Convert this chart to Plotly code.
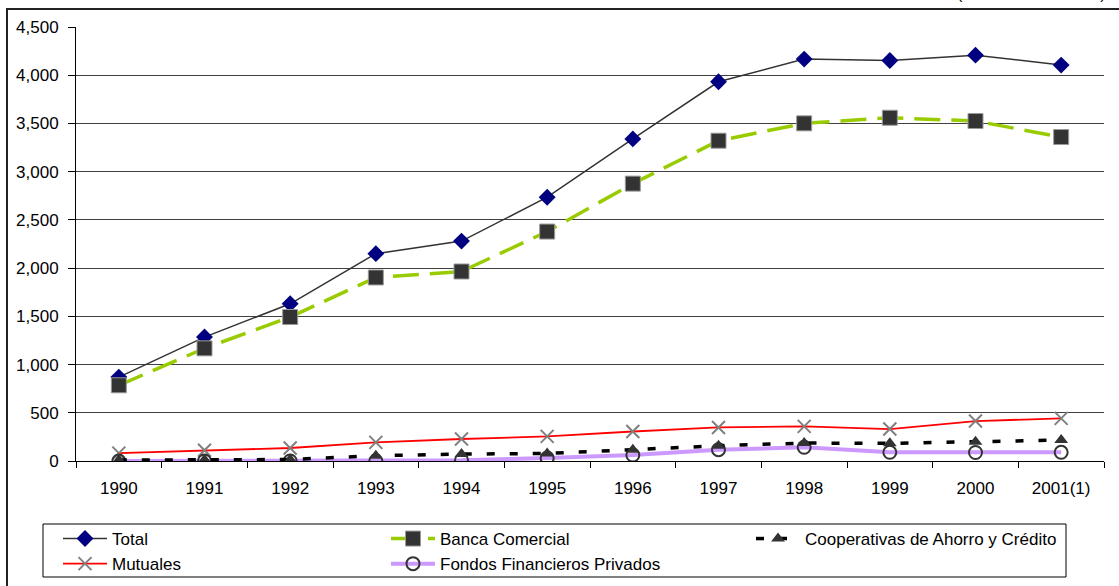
import plotly.graph_objects as go

# Categories and series (millones)
years = ["1990", "1991", "1992", "1993", "1994", "1995", "1996", "1997",
         "1998", "1999", "2000", "2001(1)"]
total = [870, 1285, 1630, 2150, 2280, 2735, 3340, 3932, 4167, 4153, 4208, 4105]
banca = [785, 1168, 1493, 1903, 1965, 2379, 2876, 3321, 3501, 3559, 3525, 3359]
cooperativas = [10, 12, 15, 55, 72, 78, 117, 158, 186, 183, 200, 217]
mutuales = [82, 112, 135, 193, 228, 255, 306, 348, 359, 331, 414, 442]
fondos = [0, 0, 0, 0, 8, 30, 62, 117, 142, 90, 88, 90]

y_ticks = list(range(0, 4501, 500))

FONT = "Arial, 'Liberation Sans', sans-serif"

W, H = 1119, 586
L, R, T, B = 76, 15, 27, 125
PW, PH = W - L - R, H - T - B


def px_x(p):
    return (p - L) / PW


def px_y(p):
    return (H - B - p) / PH


def cont_x(p):
    return p / W


def cont_y(p):
    return (H - p) / H


fig = go.Figure()

fig.add_trace(go.Scatter(
    x=years, y=total, name="Total", mode="lines+markers",
    line=dict(color="#333333", width=1.5),
    marker=dict(symbol="diamond", size=13, color="#000080"),
    legend="legend", legendrank=1,
))
fig.add_trace(go.Scatter(
    x=years, y=banca, name="Banca Comercial", mode="lines+markers",
    line=dict(color="#99CC00", width=3.5, dash="26px,11px"),
    marker=dict(symbol="square", size=15, color="#333333",
                line=dict(color="#999999", width=1)),
    legend="legend2", legendrank=1,
))
fig.add_trace(go.Scatter(
    x=years, y=mutuales, name="Mutuales", mode="lines+markers",
    line=dict(color="#FF0000", width=1.8),
    marker=dict(symbol="x-thin", size=13, color="#808080",
                line=dict(color="#808080", width=2)),
    legend="legend", legendrank=2,
))
fig.add_trace(go.Scatter(
    x=years, y=fondos, name="Fondos Financieros Privados", mode="lines+markers",
    line=dict(color="#CC99FF", width=4),
    marker=dict(symbol="circle", size=13, color="rgba(255,255,255,0)",
                line=dict(color="#333333", width=2)),
    legend="legend2", legendrank=2,
))
fig.add_trace(go.Scatter(
    x=years, y=cooperativas, name="Cooperativas de Ahorro y Crédito",
    mode="lines+markers",
    line=dict(color="#000000", width=3.5, dash="8px,15px"),
    marker=dict(symbol="triangle-up", size=12, color="#333333"),
    legend="legend3",
))

leg_common = dict(
    orientation="v", xanchor="left", yanchor="top",
    xref="container", yref="container",
    bgcolor="rgba(0,0,0,0)", borderwidth=0,
    font=dict(family=FONT, size=17, color="#000000"),
    itemwidth=44, tracegroupgap=0,
)
leg_top = cont_y(521)

fig.update_layout(
    width=W, height=H,
    margin=dict(l=L, r=R, t=T, b=B, autoexpand=False),
    paper_bgcolor="#FFFFFF", plot_bgcolor="#FFFFFF",
    font=dict(family=FONT, size=16, color="#000000"),
    showlegend=True,
    legend=dict(x=cont_x(58), y=leg_top, **leg_common),
    legend2=dict(x=cont_x(386), y=leg_top, **leg_common),
    legend3=dict(x=cont_x(751), y=leg_top, **leg_common),
    xaxis=dict(
        type="category", categoryorder="array", categoryarray=years,
        range=[-0.5, len(years) - 0.5],
        showline=True, linecolor="#000000", linewidth=1,
        ticks="outside", tickson="boundaries", ticklen=6,
        tickcolor="#000000", tickwidth=1,
        showgrid=False, zeroline=False,
        tickfont=dict(family=FONT, size=17, color="#000000"),
        ticklabelstandoff=12,
    ),
    yaxis=dict(
        range=[0, 4500], tickvals=y_ticks, tickformat=",",
        showline=True, linecolor="#000000", linewidth=1,
        ticks="outside", ticklen=7, tickcolor="#000000", tickwidth=1,
        showgrid=True, gridcolor="#404040", gridwidth=1,
        zeroline=False,
        tickfont=dict(family=FONT, size=17, color="#000000"),
        ticklabelstandoff=6,
    ),
    shapes=[
        # outer chart frame
        dict(type="rect", xref="paper", yref="paper",
             x0=px_x(7), x1=px_x(1130), y0=px_y(600), y1=px_y(9),
             line=dict(color="#222222", width=2), fillcolor="rgba(0,0,0,0)",
             layer="below"),
        # legend box
        dict(type="rect", xref="paper", yref="paper",
             x0=px_x(43), x1=px_x(1066), y0=px_y(577), y1=px_y(524),
             line=dict(color="#000000", width=1), fillcolor="rgba(0,0,0,0)",
             layer="below"),
    ],
    annotations=[
        dict(text="(Millones de dólares)", xref="paper", yref="paper",
             x=px_x(1108), y=px_y(4), xanchor="right", yanchor="bottom",
             showarrow=False,
             font=dict(family=FONT, size=16, color="#000000")),
    ],
)

fig.write_html("out.html")
